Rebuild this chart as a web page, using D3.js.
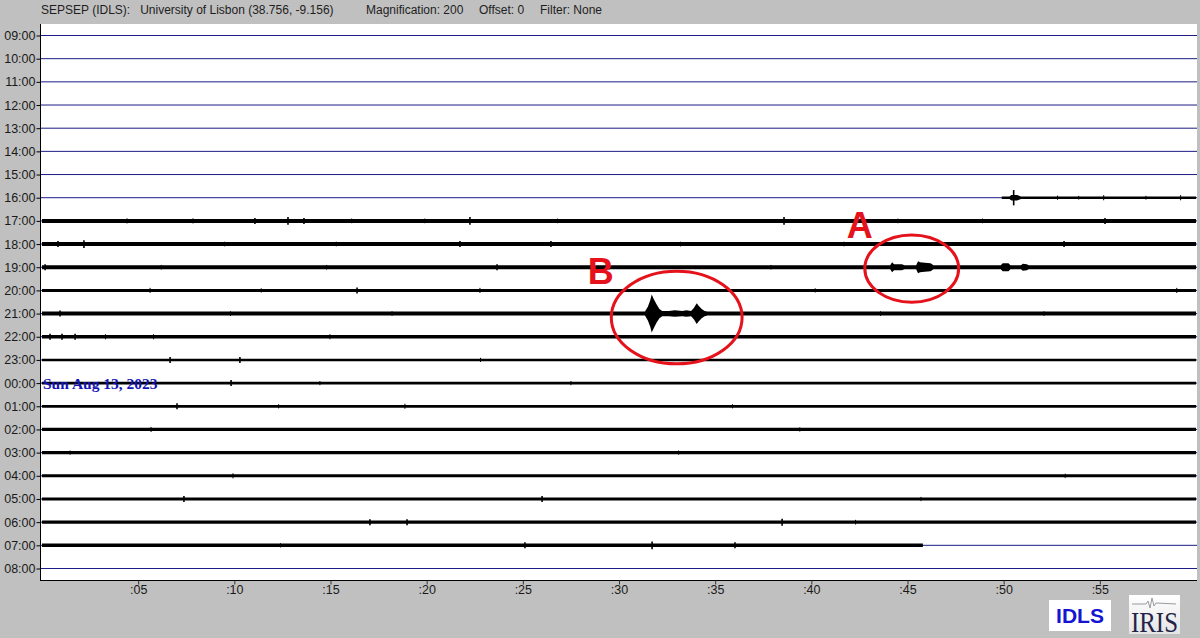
<!DOCTYPE html>
<html>
<head>
<meta charset="utf-8">
<script src="https://cdn.jsdelivr.net/npm/d3@7"></script>
<style>
  html, body { margin: 0; padding: 0; background: #c0c0c0; }
  svg { display: block; }
</style>
</head>
<body>
<svg id="chart" width="1200" height="638" font-family="Arial, 'Liberation Sans', sans-serif"></svg>
<script>
// ---------------- DATA ----------------
const headerStation = "SEPSEP (IDLS):   University of Lisbon (38.756, -9.156)";
const headerMag = "Magnification: 200";
const headerOffset = "Offset: 0";
const headerFilter = "Filter: None";
const dateLabel = "Sun Aug 13, 2023";

const hourLabels = ["09:00","10:00","11:00","12:00","13:00","14:00","15:00","16:00","17:00","18:00",
  "19:00","20:00","21:00","22:00","23:00","00:00","01:00","02:00","03:00","04:00","05:00","06:00","07:00","08:00"];
const minuteTicks = [5,10,15,20,25,30,35,40,45,50,55];
const minuteTickLabels = [":05",":10",":15",":20",":25",":30",":35",":40",":45",":50",":55"];

// data coverage per row (minutes past the hour), null = no data
const traceStart = [null,null,null,null,null,null,null,49.9,0,0,0,0,0,0,0,0,0,0,0,0,0,0,0,null];
const traceEnd   = [null,null,null,null,null,null,null,60,60,60,60,60,60,60,60,60,60,60,60,60,60,60,45.8,null];
// background noise half-amplitude per row (counts)
const noiseLevel = [0,0,0,0,0,0,0,56,86,86,86,65,86,77,56,60,60,69,65,65,65,69,77,0];

// isolated spikes: [hour, minute, half-amplitude counts]
const spikes = [
  ["16:00",50.52,330],["16:00",52.8,90],["16:00",55.2,110],["16:00",59.2,110],["16:00",53.9,80],["16:00",57.4,80],
  ["17:00",4.42,110],["17:00",7.85,110],["17:00",11.07,130],["17:00",12.79,170],["17:00",13.62,130],
  ["17:00",22.25,170],["17:00",38.58,170],["17:00",55.27,130],["17:00",16.1,100],["17:00",19.9,100],
  ["17:00",26.8,100],["17:00",44.5,100],["17:00",48.9,100],
  ["18:00",0.83,130],["18:00",2.18,170],["18:00",21.73,130],["18:00",26.46,130],["18:00",53.14,130],
  ["18:00",9.5,100],["18:00",15.3,100],["18:00",33.2,100],["18:00",41.7,100],
  ["19:00",0.16,130],["19:00",23.66,130],["19:00",6.2,100],["19:00",14.8,100],["19:00",29.5,100],["19:00",37.9,100],
  ["20:00",5.62,110],["20:00",16.38,130],["20:00",22.77,110],["20:00",59.0,110],["20:00",11.4,90],["20:00",40.2,90],
  ["21:00",0.94,130],["21:00",9.8,100],["21:00",18.2,100],["21:00",43.6,100],["21:00",52.1,100],
  ["22:00",0.42,130],["22:00",1.04,130],["22:00",1.72,130],["22:00",14.97,110],["22:00",3.3,110],["22:00",5.8,110],
  ["23:00",6.66,130],["23:00",10.29,130],["23:00",22.8,90],
  ["00:00",9.83,130],["00:00",14.45,90],["00:00",27.5,90],
  ["01:00",7.02,130],["01:00",18.87,110],["01:00",12.3,90],["01:00",35.9,90],
  ["02:00",5.67,110],["02:00",39.4,90],
  ["03:00",1.46,90],["03:00",33.1,90],
  ["04:00",9.93,110],["04:00",53.2,90],
  ["05:00",7.38,130],["05:00",26.0,130],["05:00",45.7,90],
  ["06:00",17.05,130],["06:00",18.98,130],["06:00",38.48,150],["06:00",42.3,100],
  ["07:00",25.11,130],["07:00",31.72,170],["07:00",36.03,130],["07:00",12.4,90]
];

// event envelopes: [[minute, half-amplitude counts], ...]
const eventB1 = [[31.35,86],[31.5,300],[31.62,560],[31.7,820],[31.8,640],[31.95,400],[32.1,200],[32.25,110]];
const eventBmid = [[32.6,110],[32.9,140],[33.3,110],[33.5,140]];
const eventB2 = [[33.75,110],[33.9,250],[34.04,450],[34.15,330],[34.3,200],[34.45,110],[34.6,86]];
const eventA1 = [[44.1,86],[44.2,215],[44.3,130],[44.7,130],[44.85,86]];
const eventA2 = [[45.45,86],[45.55,260],[45.65,215],[45.9,195],[46.2,170],[46.35,86]];
const eventA3 = [[49.85,86],[49.95,170],[50.25,170],[50.35,86]];
const eventA4 = [[50.9,86],[51.0,150],[51.2,130],[51.3,86]];
const event16 = [[50.3,56],[50.4,120],[50.7,120],[50.9,56]];
const events = [
  ["21:00", eventB1], ["21:00", eventBmid], ["21:00", eventB2],
  ["19:00", eventA1], ["19:00", eventA2], ["19:00", eventA3], ["19:00", eventA4],
  ["16:00", event16]
];

// annotations: ellipse [centre minute, centre row index, rx minutes, ry rows]; letters [label, minute, row index]
const ellipses = [[33.0, 12.19, 3.4, 2.0], [45.22, 10.08, 2.44, 1.45]];
const letters = [["B", 29.05, 10.2], ["A", 42.52, 8.2]];

// ---------------- LAYOUT ----------------
const svg = d3.select("#chart");
const W = 1200, H = 638;
const plot = {left: 40, right: 1197, top: 24, bottom: 580};
const sansFont = "Arial, 'Liberation Sans', sans-serif";
const serifFont = "'Liberation Serif', 'Times New Roman', serif";

const x = d3.scaleLinear().domain([0, 60]).range([42, 1196]);
const y = d3.scalePoint().domain(hourLabels).range([35, 568]).padding(0);
const yIdx = d3.scaleLinear().domain([0, hourLabels.length - 1]).range([35, 568]);
const rowGap = y.step();
const amp = d3.scaleLinear().domain([0, 1000]).range([0, rowGap]);

svg.append("rect").attr("width", W).attr("height", H).attr("fill", "#c0c0c0");
svg.append("rect").attr("x", plot.left).attr("y", plot.top)
  .attr("width", plot.right - plot.left).attr("height", plot.bottom - plot.top).attr("fill", "#ffffff");

// header
const hdr = svg.append("g").style("font-family", sansFont).attr("font-size", 12).attr("fill", "#1e1e1e");
hdr.append("text").attr("x", 41).attr("y", 14).attr("xml:space", "preserve").text(headerStation);
hdr.append("text").attr("x", 366).attr("y", 14).text(headerMag);
hdr.append("text").attr("x", 479).attr("y", 14).text(headerOffset);
hdr.append("text").attr("x", 540).attr("y", 14).text(headerFilter);

// blue "no data" lines
const blue = "#1c1c86";
svg.append("g").selectAll("line").data(hourLabels).join("line")
  .attr("x1", plot.left).attr("x2", plot.right)
  .attr("y1", d => y(d) + 0.5).attr("y2", d => y(d) + 0.5)
  .attr("stroke", blue).attr("stroke-width", 1);

// traces
const area = d3.area()
  .x(d => x(d[0]))
  .y0(d => d[2] + amp(d[1]))
  .y1(d => d[2] - amp(d[1]));

const traceG = svg.append("g");
hourLabels.forEach((h, i) => {
  if (traceStart[i] === null) return;
  const base = y(h) + 0.5;
  const nl = noiseLevel[i];
  let pts = [[traceStart[i], nl]];
  events.filter(e => e[0] === h).forEach(e => e[1].forEach(p => pts.push([p[0], Math.max(p[1], nl)])));
  pts.push([traceEnd[i], nl]);
  pts.sort((a, b) => a[0] - b[0]);
  pts = pts.map(p => [p[0], p[1], base]);
  traceG.append("path").attr("d", area(pts)).attr("fill", "#000");
});

// spikes
svg.append("g").selectAll("line").data(spikes).join("line")
  .attr("x1", d => x(d[1])).attr("x2", d => x(d[1]))
  .attr("y1", d => y(d[0]) + 0.5 - amp(d[2])).attr("y2", d => y(d[0]) + 0.5 + amp(d[2]))
  .attr("stroke", "#000").attr("stroke-width", d => d[2] > 120 ? 1.6 : 1);

// plot borders (left, bottom)
svg.append("line").attr("x1", plot.left + 0.5).attr("x2", plot.left + 0.5)
  .attr("y1", plot.top).attr("y2", plot.bottom + 0.5).attr("stroke", "#000");
svg.append("line").attr("x1", plot.left).attr("x2", plot.right)
  .attr("y1", plot.bottom + 0.5).attr("y2", plot.bottom + 0.5).attr("stroke", "#000");

// left axis labels
const leftAxis = d3.axisLeft(y).tickSize(4).tickPadding(1);
const la = svg.append("g").attr("transform", `translate(${plot.left + 0.5},0.5)`).call(leftAxis);
la.select(".domain").remove();
la.selectAll("text").attr("font-size", 12.5).attr("fill", "#1a1a1a").style("font-family", sansFont);
la.selectAll("line").attr("stroke", "#000");

// bottom axis
const bottomAxis = d3.axisBottom(x).tickValues(minuteTicks)
  .tickFormat((d, i) => minuteTickLabels[i]).tickSize(4).tickPadding(1);
const ba = svg.append("g").attr("transform", `translate(0,${plot.bottom + 0.5})`).call(bottomAxis);
ba.select(".domain").remove();
ba.selectAll("text").attr("font-size", 12.5).attr("fill", "#1a1a1a").style("font-family", sansFont);
ba.selectAll("line").attr("stroke", "#333");

// date label
svg.append("text").attr("x", x(0) + 1).attr("y", y("00:00") + 6)
  .style("font-family", serifFont)
  .attr("font-weight", "bold").attr("font-size", 15.5).attr("fill", "#1414b4")
  .text(dateLabel);

// annotations
const red = "#e5121b";
svg.append("g").selectAll("ellipse").data(ellipses).join("ellipse")
  .attr("cx", d => x(d[0])).attr("cy", d => yIdx(d[1]))
  .attr("rx", d => x(d[2]) - x(0)).attr("ry", d => yIdx(d[3]) - yIdx(0))
  .attr("fill", "none").attr("stroke", red).attr("stroke-width", 3);
svg.append("g").selectAll("text").data(letters).join("text")
  .attr("x", d => x(d[1])).attr("y", d => yIdx(d[2]) + 13)
  .attr("text-anchor", "middle")
  .style("font-family", sansFont)
  .attr("font-size", 36).attr("font-weight", "bold").attr("fill", red)
  .text(d => d[0]);

// logos
svg.append("rect").attr("x", 1049).attr("y", 600).attr("width", 62).attr("height", 31).attr("fill", "#fff");
svg.append("text").attr("x", 1080).attr("y", 623).attr("text-anchor", "middle").style("font-family", sansFont)
  .attr("font-size", 21).attr("font-weight", "bold").attr("fill", "#1414d2").text("IDLS");

const irisGrad = svg.append("defs").append("linearGradient").attr("id", "irisg")
  .attr("x1", 0).attr("x2", 0).attr("y1", 0).attr("y2", 1);
irisGrad.append("stop").attr("offset", "0").attr("stop-color", "#ffffff");
irisGrad.append("stop").attr("offset", "1").attr("stop-color", "#e4e4e4");
svg.append("rect").attr("x", 1129).attr("y", 595).attr("width", 51).attr("height", 39).attr("fill", "url(#irisg)");
svg.append("path").attr("d", "M1132,604 L1146,604 L1148,601 L1150,608 L1152,598 L1154,606 L1156,603 L1176,604")
  .attr("fill", "none").attr("stroke", "#9a9aa0").attr("stroke-width", 1);
svg.append("text").attr("x", 1131).attr("y", 632)
  .style("font-family", serifFont)
  .attr("font-size", 30).attr("fill", "#23234a")
  .attr("textLength", 47).attr("lengthAdjust", "spacingAndGlyphs").text("IRIS");
</script>
</body>
</html>
